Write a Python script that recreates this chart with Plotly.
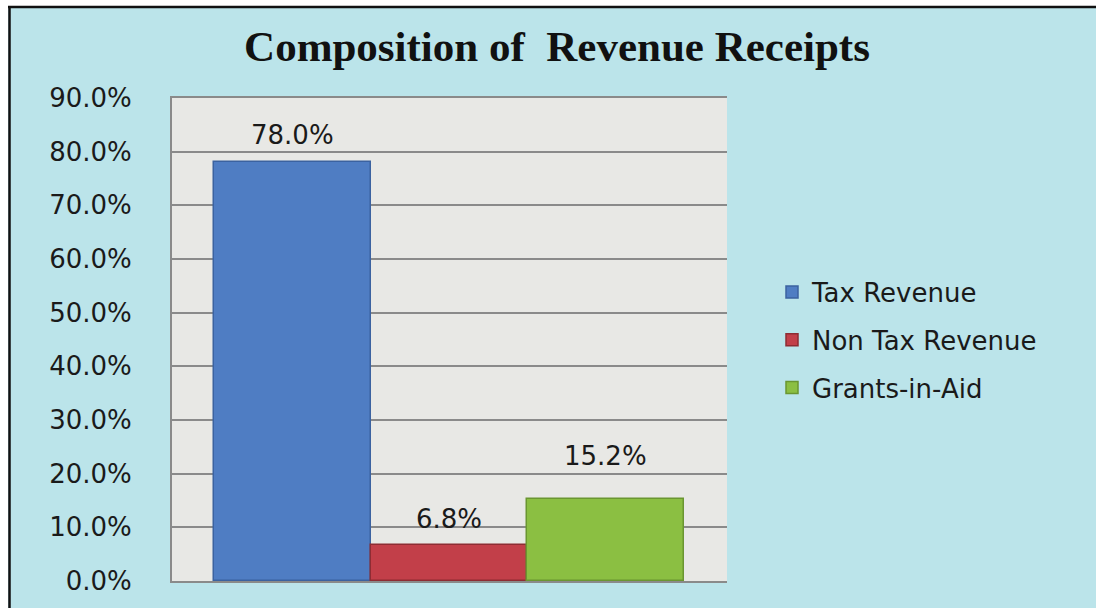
import plotly.graph_objects as go

# Revenue receipt composition (share of total, %)
categories = ["Tax Revenue", "Non Tax Revenue", "Grants-in-Aid"]
shares = [78.0, 6.8, 15.2]
y_ticks = [0, 10, 20, 30, 40, 50, 60, 70, 80, 90]

fill_colors = ["#4f7dc3", "#c23f49", "#8bbf42"]
edge_colors = ["#3b62a0", "#8e2c33", "#6a9631"]
label_shift = [27, 26, 43]  # px above each bar top for the value labels

W, H = 1096, 608
L, R, T, B = 172, 727, 98, 581  # plot area in px
pw, ph = R - L, B - T

TEXT_FONT = "DejaVu Sans"
TEXT_COLOR = "#1a1a1a"


def px_x(p):
    return (p - L) / pw


def px_y(q):
    return (B - q) / ph


fig = go.Figure()
for name, val, fc, ec in zip(categories, shares, fill_colors, edge_colors):
    fig.add_trace(go.Bar(
        x=[name], y=[val], name=name,
        marker=dict(color=fc, line=dict(color=ec, width=1.5)),
        legendgroup=name, showlegend=True, hoverinfo="skip",
    ))

for name, val, dy in zip(categories, shares, label_shift):
    fig.add_annotation(
        x=name, y=val, text=f"{val:.1f}%", showarrow=False,
        yanchor="middle", yshift=dy,
        font=dict(family=TEXT_FONT, size=26, color=TEXT_COLOR),
    )

# page frame: white margin with a dark rule on the top and left edges
shapes = [
    dict(type="rect", xref="paper", yref="paper", layer="below",
         x0=px_x(0), x1=px_x(W), y0=px_y(0), y1=px_y(6),
         fillcolor="white", line=dict(width=0)),
    dict(type="rect", xref="paper", yref="paper", layer="below",
         x0=px_x(0), x1=px_x(8), y0=px_y(0), y1=px_y(H),
         fillcolor="white", line=dict(width=0)),
    dict(type="line", xref="paper", yref="paper",
         x0=px_x(8), x1=px_x(W), y0=px_y(7), y1=px_y(7),
         line=dict(color="#111111", width=2.5)),
    dict(type="line", xref="paper", yref="paper",
         x0=px_x(9.5), x1=px_x(9.5), y0=px_y(7), y1=px_y(H),
         line=dict(color="#111111", width=2.5)),
]

fig.update_layout(
    width=W, height=H,
    margin=dict(l=L, r=W - R, t=T, b=H - B, pad=0),
    paper_bgcolor="#bbe4ea",
    plot_bgcolor="#e8e8e5",
    barmode="group",
    bargap=0, bargroupgap=0,
    title=dict(
        text="Composition of\u00a0 Revenue Receipts",
        x=557 / W, xanchor="center", y=1 - 46 / H, yanchor="middle",
        font=dict(family="Liberation Serif", size=43, color="#111111",
                  weight="bold"),
    ),
    legend=dict(
        x=px_x(772), xanchor="left", y=px_y(340), yanchor="middle",
        bgcolor="rgba(0,0,0,0)", traceorder="grouped", tracegroupgap=11,
        font=dict(family=TEXT_FONT, size=26, color=TEXT_COLOR),
    ),
    xaxis=dict(
        type="category", categoryorder="array", categoryarray=categories,
        range=[-0.768, 2.774], showticklabels=False, ticks="",
        showgrid=False, showline=True, mirror=True,
        linecolor="#8a8a8a", linewidth=2, zeroline=False,
    ),
    yaxis=dict(
        range=[0, 90], tickvals=y_ticks,
        ticktext=[f"{v:.1f}%" for v in y_ticks],
        showgrid=True, gridcolor="#8a8a8a", gridwidth=1.5,
        showline=True, linecolor="#8a8a8a", linewidth=2,
        zeroline=False,
        ticks="outside", ticklen=33, tickcolor="rgba(0,0,0,0)",
        tickfont=dict(family=TEXT_FONT, size=26, color=TEXT_COLOR),
    ),
    shapes=shapes,
    showlegend=True,
)

fig.write_html("out.html")
